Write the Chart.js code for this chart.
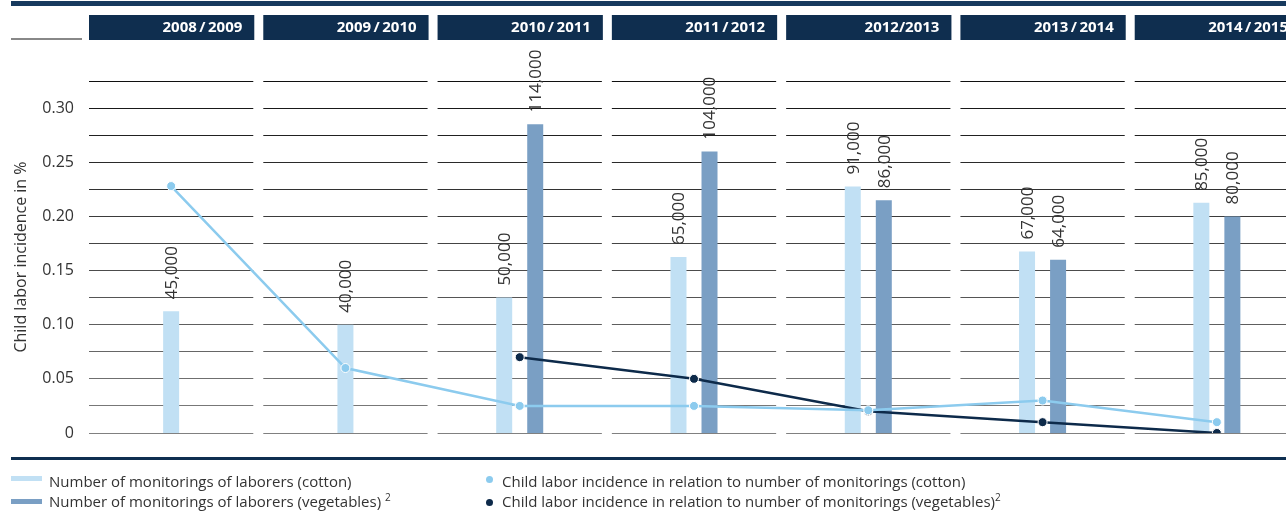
<!DOCTYPE html>
<html>
<head>
<meta charset="utf-8">
<script src="https://cdn.jsdelivr.net/npm/chart.js@4.4.1/dist/chart.umd.min.js"></script>
<style>
  html, body { margin: 0; padding: 0; background: #fff; overflow: hidden; width: 1286px; height: 513px; }
  #wrap { position: absolute; left: 0; top: 0; width: 1310px; height: 513px; }
  .lg { position: absolute; font-family: "Open Sans", sans-serif; font-size: 15px; color: #333; line-height: 18px; white-space: nowrap; }
  .lg sup { font-size: 10px; line-height: 0; }
  .sw { position: absolute; width: 31px; height: 5px; }
  .dot { position: absolute; width: 7px; height: 7px; border-radius: 50%; }
</style>
</head>
<body>
<div id="wrap"><canvas id="myChart" width="1310" height="513"></canvas></div>

<div class="sw" style="left:11px; top:476px; background:#c1e0f4"></div>
<div class="lg" style="left:49px; top:472px">Number of monitorings of laborers (cotton)</div>
<div class="sw" style="left:11px; top:499px; background:#7a9fc4"></div>
<div class="lg" style="left:49px; top:492px">Number of monitorings of laborers (vegetables) <sup>2</sup></div>

<div class="dot" style="left:486px; top:476px; background:#8ccbee"></div>
<div class="lg" style="left:502px; top:472px">Child labor incidence in relation to number of monitorings (cotton)</div>
<div class="dot" style="left:486px; top:499px; background:#0d2a4a"></div>
<div class="lg" style="left:502px; top:492px">Child labor incidence in relation to number of monitorings (vegetables)<sup>2</sup></div>

<script>
var seasons = ['2008\u2009/\u20092009', '2009\u2009/\u20092010', '2010\u2009/\u20092011', '2011\u2009/\u20092012', '2012/2013', '2013\u2009/\u20092014', '2014\u2009/\u20092015'];
var cottonMonitorings = [45000, 40000, 50000, 65000, 91000, 67000, 85000];
var vegMonitorings = [null, null, 114000, 104000, 86000, 64000, 80000];
var cottonIncidence = [0.228, 0.06, 0.025, 0.025, 0.021, 0.03, 0.01];
var vegIncidence = [null, null, 0.07, 0.05, 0.02, 0.01, 0];
var yTickLabels = ['0', '0.05', '0.10', '0.15', '0.20', '0.25', '0.30'];

var FONT = '"Open Sans", sans-serif';

// white gaps between the season columns, header boxes, rules
var columnsPlugin = {
    id: 'columns',
    beforeDatasetsDraw: function(chart){
        var ctx = chart.ctx, a = chart.chartArea;
        var w = (a.right - a.left) / seasons.length;
        ctx.save();
        ctx.fillStyle = '#fff';
        for (var i = 0; i <= seasons.length; i++) {
            var x = a.left + i * w;
            ctx.fillRect(x - 5, a.top - 3, 10, a.bottom - a.top + 6);
        }
        ctx.restore();
    },
    afterDatasetsDraw: function(chart){
        var ctx = chart.ctx;
        ctx.save();
        ctx.fillStyle = '#333';
        ctx.font = '17px ' + FONT;
        ctx.textAlign = 'left';
        ctx.textBaseline = 'middle';
        chart.data.datasets.forEach(function(ds, di){
            if (ds.type !== 'bar') return;
            chart.getDatasetMeta(di).data.forEach(function(bar, i){
                var v = ds.data[i];
                if (v === null || v === undefined) return;
                ctx.save();
                ctx.translate(bar.x + 1, bar.y - 12);
                ctx.rotate(-Math.PI / 2);
                ctx.fillText(v.toLocaleString('en-US'), 0, 0);
                ctx.restore();
            });
        });
        ctx.restore();
    },
    afterDraw: function(chart){
        var ctx = chart.ctx, a = chart.chartArea;
        var w = (a.right - a.left) / seasons.length;
        ctx.save();
        ctx.fillStyle = '#173a5e';
        ctx.fillRect(11, 1, chart.width, 5);
        ctx.fillStyle = '#888';
        ctx.fillRect(11, 38, 71, 2);
        ctx.fillStyle = '#0f2f50';
        ctx.fillRect(11, 457, chart.width, 3);
        ctx.font = 'bold 15px ' + FONT;
        ctx.textAlign = 'right';
        ctx.textBaseline = 'middle';
        for (var i = 0; i < seasons.length; i++) {
            var x0 = a.left + i * w + 5, x1 = a.left + (i + 1) * w - 4;
            ctx.fillStyle = '#0f2e4f';
            ctx.fillRect(x0, 15, x1 - x0, 25);
            ctx.fillStyle = '#fff';
            ctx.fillText(seasons[i], x1 - 12, 28);
        }
        ctx.restore();
    }
};

var context = document.getElementById('myChart');
var chart = new Chart(context, {
    data: {
        labels: seasons,
        datasets: [{
            type: 'line',
            label: 'Child labor incidence in relation to number of monitorings (cotton)',
            data: cottonIncidence,
            yAxisID: 'y',
            borderColor: '#8ccbee',
            backgroundColor: '#8ccbee',
            borderWidth: 2.5,
            pointRadius: 4.5,
            pointBorderColor: '#fff',
            pointBorderWidth: 1,
            tension: 0,
            order: 0
        }, {
            type: 'line',
            label: 'Child labor incidence in relation to number of monitorings (vegetables)',
            data: vegIncidence,
            yAxisID: 'y',
            borderColor: '#0d2a4a',
            backgroundColor: '#0d2a4a',
            borderWidth: 2.5,
            pointRadius: 4.5,
            pointBorderColor: '#fff',
            pointBorderWidth: 1,
            tension: 0,
            order: 0
        }, {
            type: 'bar',
            label: 'Number of monitorings of laborers (cotton)',
            data: cottonMonitorings,
            yAxisID: 'y2',
            backgroundColor: '#c1e0f4',
            categoryPercentage: 0.356,
            barPercentage: 0.516,
            maxBarThickness: 16,
            skipNull: true,
            order: 1
        }, {
            type: 'bar',
            label: 'Number of monitorings of laborers (vegetables)',
            data: vegMonitorings,
            yAxisID: 'y2',
            backgroundColor: '#7a9fc4',
            categoryPercentage: 0.356,
            barPercentage: 0.516,
            maxBarThickness: 16,
            skipNull: true,
            order: 1
        }]
    },
    options: {
        responsive: false,
        animation: false,
        layout: { padding: { top: 81, bottom: 80, left: 0, right: 6 } },
        plugins: {
            legend: { display: false },
            tooltip: { enabled: false }
        },
        scales: {
            x: { display: false },
            y: {
                position: 'left',
                min: 0,
                max: 0.325,
                border: { display: false },
                grid: {
                    drawTicks: false,
                    lineWidth: 1,
                    color: function(c){
                        var t = c.tick ? c.tick.value / 0.325 : 0;
                        var g = Math.round(128 - 112 * t);
                        return 'rgb(' + g + ',' + g + ',' + g + ')';
                    }
                },
                ticks: {
                    stepSize: 0.025,
                    autoSkip: false,
                    padding: 10,
                    color: '#333',
                    font: { family: FONT, size: 16 },
                    callback: function(value){
                        var i = Math.round(value / 0.025);
                        return (i % 2 === 0 && i / 2 < yTickLabels.length) ? yTickLabels[i / 2] : '';
                    }
                },
                title: {
                    display: true,
                    text: 'Child labor incidence in %',
                    color: '#333',
                    font: { family: FONT, size: 16 },
                    padding: { top: 12, bottom: 0 }
                },
                afterFit: function(scale){ scale.width = 84; }
            },
            y2: {
                display: false,
                min: 0,
                max: 130000
            }
        }
    },
    plugins: [columnsPlugin]
});
</script>
</body>
</html>
